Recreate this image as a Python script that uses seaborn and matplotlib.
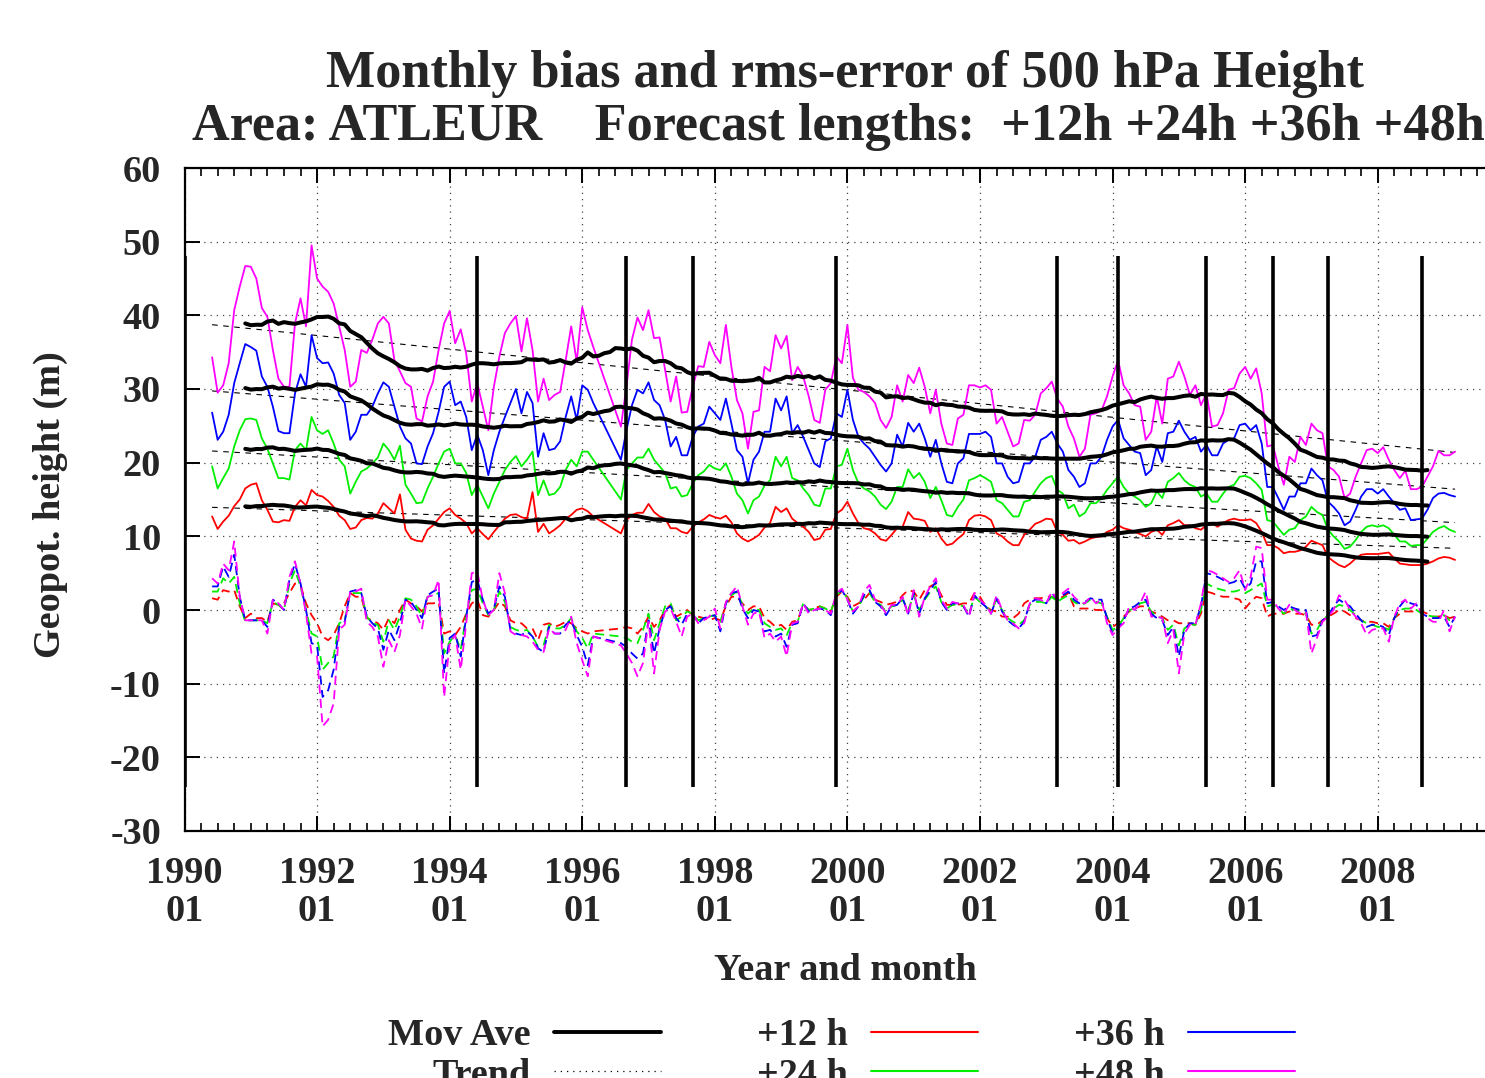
import numpy as np
import pandas as pd
import matplotlib
matplotlib.use("Agg")
import matplotlib.pyplot as plt
import seaborn as sns
from matplotlib.ticker import MultipleLocator, FixedLocator
from matplotlib.lines import Line2D

# ---------------- data (monthly, first month = June 1990) ----------------
start_year, start_month = 1990, 6

rms_12h = [12.7, 11.0, 12.0, 12.8, 14.1, 15.0, 16.5, 17.0, 17.2, 14.9, 13.6, 12.0, 11.9, 12.2, 12.1, 14.0, 14.9, 14.2, 16.3, 15.6, 15.4, 14.8, 14.0, 12.8, 12.2, 11.0, 11.2, 12.2, 12.5, 12.4, 13.1, 14.5, 13.8, 13.1, 15.7, 10.9,
           9.7, 9.4, 9.3, 10.9, 11.5, 12.4, 13.3, 13.8, 12.9, 12.4, 11.8, 10.4, 11.1, 10.3, 9.6, 10.6, 11.5, 12.4, 12.9, 13.0, 12.6, 12.4, 16.0, 10.6, 11.7, 10.4, 10.9, 11.5, 12.4, 12.9, 13.6, 13.8, 13.4, 12.7,
           None, None, None, None,
           10.4, 12.2, 12.9, 13.2, 13.2, 14.4, 13.3, 12.7, 12.4, 11.1, 11.1, 10.6, 10.4, 11.3, 11.9, 12.3, 12.9, 12.6, 12.4, 12.8, 11.9, 10.4, 9.7, 9.3, 9.7, 10.2, 11.2, 11.8, 14.0, 13.3, 13.8, 12.4, 11.8, 11.3, 10.6, 9.5, 9.7, 10.9, 11.0, 13.1, 13.6, 14.7,
           13.1, 11.8, 11.1, 10.9, 10.4, 9.6, 9.4, 10.2, 11.1, 11.3, 13.3, 12.4, 12.3, 12.1, 10.6, 11.1, 9.7, 8.8, 9.0, 9.7, 10.3, 12.2, 12.8, 12.9, 12.7, 12.2, 10.4, 10.0, 9.3, 8.8, 8.8, 10.2, 10.9, 11.7, 12.0, 12.4, 12.3, 10.6, 10.2, 9.4,
           9.5, 9.0, 9.3, 9.7, 9.9, 10.0, 10.6, 10.9, 11.5, 11.1, 10.9, 10.6, 10.3, 10.0, 10.6, 10.9, 10.2, 11.5, 11.8, 12.2, 11.5, 11.5, 11.1, 10.9, 11.5, 11.8, 11.3, 11.8, 12.2, 12.4, 12.2, 12.2, 12.3, 11.8, 10.6, 8.8,
           8.8, 8.4, 7.7, 7.9, 7.9, 8.1, 8.6, 9.4, 9.1, 8.8, 7.2, 6.6, 6.1, 5.8, 6.3, 7.0, 7.5, 7.6, 7.6, 7.6, 7.7, 7.8, 7.0, 6.3, 6.2, 6.1, 6.1, 6.1, 6.3, 6.6, 7.0, 7.2, 7.1, 6.8]

rms_24h = [19.5, 16.5, 17.9, 19.2, 22.2, 24.4, 25.9, 26.0, 25.8, 23.3, 21.9, 19.9, 17.9, 17.9, 17.7, 21.7, 22.6, 21.7, 26.2, 24.4, 23.9, 24.4, 22.6, 20.4, 19.5, 15.8, 17.4, 18.8, 19.2, 19.9, 20.7, 22.6, 21.7, 20.4, 22.3, 17.0,
           15.8, 14.5, 14.6, 16.5, 18.1, 19.9, 21.5, 21.9, 19.9, 19.9, 18.6, 15.6, 17.0, 15.4, 13.8, 15.8, 17.4, 19.0, 20.1, 20.9, 19.5, 20.4, 21.5, 15.6, 17.6, 15.6, 15.8, 16.7, 19.0, 20.4, 19.5, 21.5, 21.5, 20.4,
           None, None, None, None,
           15.0, 19.0, 19.9, 20.7, 20.7, 21.9, 20.4, 19.5, 18.6, 16.5, 16.7, 15.4, 15.6, 17.2, 18.3, 18.8, 19.7, 19.2, 19.0, 19.9, 18.1, 15.8, 14.9, 13.1, 14.9, 15.4, 16.9, 17.6, 20.8, 19.5, 20.8, 17.9, 17.6, 16.5, 15.6, 14.3, 14.1, 16.5, 16.5, 19.5, 19.7, 21.9,
           19.0, 17.2, 16.5, 16.1, 15.4, 14.3, 13.7, 14.7, 16.7, 16.7, 19.1, 17.9, 18.6, 17.4, 15.2, 16.7, 14.9, 12.9, 12.7, 14.0, 15.0, 17.6, 17.9, 18.3, 17.9, 17.4, 14.9, 14.5, 13.6, 12.7, 12.7, 14.7, 14.9, 16.1, 17.2, 17.9, 18.2, 16.3, 15.8, 13.8,
           14.3, 12.7, 13.2, 14.5, 14.5, 15.2, 16.3, 17.2, 18.1, 16.7, 15.8, 15.4, 14.9, 14.0, 14.5, 16.1, 15.2, 17.4, 17.9, 18.6, 17.6, 17.0, 16.7, 15.4, 15.8, 14.7, 14.7, 15.8, 16.7, 17.0, 18.1, 18.2, 17.9, 17.2, 16.3, 12.2,
           12.0, 11.1, 10.2, 10.9, 11.1, 12.2, 12.7, 14.0, 13.3, 12.9, 10.9, 10.0, 9.3, 8.3, 8.6, 9.5, 10.6, 11.3, 11.5, 11.3, 11.5, 11.1, 10.2, 9.3, 9.3, 8.7, 8.8, 8.8, 9.7, 10.6, 11.1, 11.4, 10.9, 10.6]

rms_36h = [26.8, 23.1, 24.2, 26.5, 30.8, 33.5, 36.1, 35.7, 35.2, 31.7, 30.3, 27.6, 24.3, 24.0, 24.0, 29.4, 32.0, 30.3, 37.3, 34.2, 33.5, 33.6, 32.1, 29.2, 28.1, 23.1, 24.2, 26.5, 26.5, 27.6, 29.4, 30.9, 30.3, 27.6, 24.9, 23.3,
           22.6, 19.9, 19.8, 22.2, 24.0, 26.9, 30.3, 31.0, 27.8, 28.3, 26.2, 21.7, 23.8, 21.7, 18.3, 21.7, 24.2, 26.2, 28.1, 30.0, 26.7, 29.6, 28.1, 20.8, 24.0, 21.7, 21.9, 22.9, 26.2, 29.0, 25.8, 30.5, 29.9, 28.1,
           None, None, None, None,
           20.4, 24.4, 27.8, 29.9, 29.4, 30.9, 28.5, 27.8, 25.8, 22.2, 23.5, 21.0, 21.0, 23.5, 24.9, 25.3, 27.6, 26.7, 25.8, 28.7, 25.3, 21.7, 20.8, 17.2, 20.4, 21.5, 24.2, 24.2, 28.7, 27.1, 29.0, 24.0, 25.1, 23.5, 21.7, 19.9, 19.4, 22.9, 23.3, 26.7, 26.2, 29.9,
           25.8, 23.5, 22.6, 21.9, 20.8, 19.7, 18.8, 19.9, 23.8, 22.2, 25.4, 24.2, 25.3, 23.3, 20.8, 23.1, 19.9, 17.4, 17.2, 19.9, 20.6, 23.9, 23.9, 23.9, 24.2, 23.5, 19.9, 19.9, 18.1, 17.2, 17.4, 19.9, 19.9, 20.8, 23.1, 23.5, 24.2, 22.6, 21.5, 19.0,
           18.1, 16.7, 17.2, 19.9, 19.9, 20.8, 23.1, 24.9, 25.8, 23.3, 22.4, 21.5, 21.3, 18.3, 19.0, 22.2, 20.1, 24.0, 24.2, 25.7, 24.2, 23.1, 23.5, 21.5, 22.4, 21.0, 21.0, 22.6, 23.1, 23.3, 25.1, 25.3, 24.4, 25.1, 22.6, 16.7,
           16.7, 15.2, 13.6, 15.4, 15.4, 17.2, 17.2, 19.2, 18.3, 17.6, 14.7, 14.0, 13.1, 11.5, 12.0, 13.6, 15.4, 16.4, 16.4, 15.8, 16.4, 15.4, 14.5, 13.6, 13.8, 12.2, 12.3, 12.4, 13.6, 15.2, 15.8, 15.9, 15.6, 15.4]

rms_48h = [34.3, 29.5, 30.5, 33.5, 40.7, 43.9, 46.7, 46.6, 45.0, 41.0, 39.8, 35.3, 31.4, 30.3, 30.3, 38.9, 42.3, 38.5, 49.5, 45.0, 43.9, 43.2, 41.6, 38.5, 35.3, 30.3, 31.0, 35.3, 34.9, 36.7, 38.9, 39.8, 38.9, 33.9, 32.4, 30.8,
           30.3, 26.0, 25.6, 29.0, 31.0, 35.3, 38.9, 40.6, 36.2, 38.1, 34.8, 28.3, 30.8, 27.6, 24.4, 30.3, 34.4, 37.6, 38.9, 39.9, 35.1, 39.6, 35.3, 28.3, 31.4, 28.5, 29.2, 29.6, 33.9, 38.5, 33.7, 41.1, 38.0, 35.7,
           None, None, None, None,
           24.9, 30.3, 36.7, 39.7, 38.0, 40.7, 36.9, 37.0, 32.6, 28.3, 31.7, 26.8, 26.9, 30.3, 33.1, 33.0, 36.4, 34.6, 33.5, 38.7, 33.0, 28.5, 26.7, 21.9, 26.9, 27.1, 33.0, 32.4, 37.3, 35.5, 37.2, 31.2, 33.0, 31.7, 29.0, 25.8, 25.4, 29.9, 30.8, 34.4, 33.5, 38.7,
           31.5, 29.9, 29.6, 29.0, 28.1, 25.8, 24.7, 26.2, 30.5, 28.3, 31.9, 30.8, 32.9, 30.3, 26.7, 29.9, 25.3, 22.6, 22.4, 26.0, 26.5, 30.5, 30.5, 30.2, 30.5, 29.9, 25.3, 26.2, 24.2, 22.2, 22.6, 25.8, 25.7, 26.5, 29.4, 30.1, 31.0, 28.7, 27.6, 24.9,
           23.3, 20.8, 21.9, 26.5, 26.7, 27.1, 29.0, 31.7, 33.9, 30.5, 29.4, 27.8, 27.6, 23.1, 24.2, 29.0, 25.3, 31.4, 31.7, 33.7, 31.7, 29.2, 30.5, 27.8, 29.4, 24.9, 25.1, 26.7, 29.9, 30.1, 32.1, 33.0, 31.4, 32.8, 29.4, 22.2,
           22.4, 19.5, 17.0, 20.8, 20.1, 23.5, 22.4, 25.3, 24.4, 24.0, 19.5, 19.0, 18.1, 15.2, 15.8, 18.1, 19.9, 21.7, 21.9, 21.3, 22.1, 20.4, 19.0, 17.9, 18.9, 16.4, 16.4, 16.7, 18.1, 19.5, 21.6, 21.0, 21.0, 21.5]

bias_12h = [1.6, 1.4, 2.7, 2.5, 2.7, 0.5, -1.1, -0.5, -1.1, -1.1, -1.6, 0.9, 0.7, 0.9, 2.3, 3.6, 3.4, 0.9, -0.7, -1.8, -3.6, -4.1, -3.4, -1.8, 0.5, 2.3, 1.8, 1.8, -1.1, -1.4, -1.8, -2.7, -1.1, -1.8, 0.0, 1.4,
            0.9, 0.5, -0.2, 0.9, 0.9, 1.1, -3.2, -2.9, -3.4, -2.3, -0.5, 0.9, 1.4, -0.7, -0.9, 0.0, 1.1, 0.5, -1.4, -1.8, -1.8, -2.5, -2.5, -4.1, -2.0, -1.8, -2.3, -2.0, -1.6, -1.8, -2.5, -2.9, -3.2, -2.9,
            None, None, None, None,
            -2.5, -2.3, -2.5, -3.2, -2.3, -0.9, -2.3, -1.4, 0.0, 0.7, -0.9, -0.5, 0.0, -0.7, -0.9, -1.1, -1.4, -1.1, -1.4, 0.5, 1.8, 1.8, 0.9, 0.0, 0.5, 0.5, -1.1, -1.6, -2.3, -2.0, -2.7, -1.6, -1.4, 0.7, 0.0, 0.2, 0.5, 0.2, -0.2, 1.8, 2.5, 1.8,
            0.5, 0.9, 1.4, 2.3, 1.4, 1.1, 0.7, 0.9, 1.1, 2.0, 2.7, 2.5, 1.4, 2.7, 3.2, 3.6, 2.0, 0.7, 0.7, 0.7, 0.9, 0.9, 2.3, 1.8, 0.5, 0.0, -0.2, -0.9, -0.9, -1.1, -0.5, 0.9, 1.4, 1.6, 1.6, 1.8, 1.8, 1.4, 1.8, 2.3,
            0.5, 0.2, 0.2, 0.2, 0.0, 0.0, -1.1, -2.3, -1.8, -0.9, -0.2, 0.2, 0.5, 0.5, -0.2, -0.5, -0.9, -1.4, -1.4, -1.8, -1.8, -1.8, -2.0, -0.5, 2.5, 2.3, 2.0, 1.8, 1.8, 1.6, 1.4, 0.2, 1.1, 1.8, 1.6, -0.9,
            -0.5, -0.5, -0.5, -0.2, -0.5, -0.5, -0.7, -2.0, -2.0, -1.4, -0.9, -0.5, 0.0, -0.2, -0.7, -1.1, -1.4, -1.6, -1.6, -1.8, -1.8, -2.3, -1.1, -0.5, -0.2, -0.2, -0.2, -0.2, -0.5, -0.9, -0.9, -0.7, -1.1, -0.9]

bias_24h = [2.5, 2.5, 4.3, 3.6, 4.5, 0.9, -1.6, -1.4, -1.4, -1.4, -1.8, 1.1, 0.7, 0.0, 3.6, 5.4, 3.2, 0.0, -3.2, -3.6, -8.1, -7.2, -6.3, -1.8, -1.4, 2.3, 2.3, 2.3, -0.9, -1.8, -2.0, -4.3, -1.4, -2.7, -0.9, 1.6,
            1.4, 0.5, -0.9, 1.8, 2.0, 2.3, -5.9, -4.3, -3.4, -5.4, -0.7, 2.7, 2.9, 0.9, -0.7, 0.0, 2.5, 1.1, -2.3, -2.7, -2.9, -2.7, -3.6, -5.0, -4.8, -2.0, -2.5, -2.5, -2.0, -1.1, -2.9, -3.8, -5.2, -3.2,
            None, None, None, None,
            -3.6, -3.8, -4.3, -4.5, -2.7, -0.5, -4.1, -1.8, 0.5, 0.9, -1.4, -0.9, -0.2, -0.5, -1.4, -1.1, -0.9, -0.7, -1.6, 0.9, 2.0, 2.5, 0.7, -0.5, 0.2, 0.0, -1.8, -2.3, -2.7, -2.5, -3.4, -1.8, -1.6, 0.9, 0.0, 0.2, 0.5, 0.2, -0.2, 2.0, 2.7, 1.6,
            -0.2, 0.5, 1.8, 2.3, 1.1, 0.7, -0.2, 0.5, 0.7, 1.4, 0.0, 2.0, 0.0, 1.4, 2.5, 3.2, 1.1, 0.2, 0.7, 0.7, 0.5, -0.5, 1.8, 1.1, 0.5, -0.2, 1.4, 0.0, -1.1, -1.6, -2.0, -1.4, 0.7, 1.1, 1.1, 0.9, 1.8, 1.1, 1.6, 2.0,
            1.1, 0.7, 0.9, 1.4, 1.1, 0.9, -0.9, -2.7, -2.3, -1.1, 0.0, 0.2, 0.9, 1.1, -0.2, -0.9, -1.1, -2.7, -2.0, -4.8, -2.5, -2.0, -2.0, 0.0, 3.6, 3.2, 2.9, 2.7, 2.5, 2.5, 2.7, 2.3, 2.7, 3.2, 3.6, 0.5,
            0.7, 0.2, -0.5, 0.2, 0.0, -0.2, -0.5, -3.2, -2.7, -1.4, -0.7, 0.2, 0.7, 0.5, 0.0, -0.7, -1.4, -1.8, -2.0, -2.3, -2.3, -2.7, -1.1, 0.0, 0.2, 0.2, 0.0, -0.5, -0.7, -0.9, -0.9, -0.7, -1.4, -1.1]

bias_36h = [3.2, 3.2, 5.9, 4.5, 7.5, 1.8, -1.4, -1.4, -1.4, -1.4, -2.3, 1.4, 0.9, 0.0, 4.1, 6.3, 3.6, 0.0, -4.5, -4.8, -11.8, -10.9, -8.1, -2.3, -1.6, 2.5, 2.7, 2.3, -0.9, -1.8, -2.5, -5.4, -2.7, -4.1, -1.8, 1.4,
            1.1, 0.0, -1.1, 2.0, 2.5, 2.9, -8.6, -3.8, -3.2, -6.3, -0.9, 3.8, 4.1, 1.4, -0.5, 0.2, 3.2, 1.8, -2.7, -3.2, -3.4, -2.9, -3.6, -5.2, -5.7, -2.3, -3.2, -3.2, -2.0, -1.4, -3.4, -5.0, -7.5, -3.6,
            None, None, None, None,
            -4.5, -5.0, -5.9, -6.6, -5.9, -1.4, -5.9, -2.5, 0.0, 0.5, -1.1, -2.0, -0.5, -0.5, -1.8, -1.1, -0.9, -0.7, -2.9, 0.9, 2.3, 2.5, 0.2, -1.1, 0.0, -0.2, -2.9, -2.7, -3.6, -3.2, -5.0, -2.0, -1.8, 0.9, -0.2, 0.0, 0.2, 0.0, -0.7, 2.0, 2.7, 1.4,
            -0.5, 0.5, 2.0, 2.7, 1.1, 0.5, -0.7, 0.5, 0.7, 1.6, -0.5, 2.3, -0.5, 1.6, 2.7, 3.8, 1.1, 0.0, 0.9, 0.9, 0.5, -0.9, 2.0, 1.1, 0.5, -0.5, 1.6, -0.2, -1.4, -2.0, -2.5, -1.6, 0.9, 1.4, 1.4, 0.9, 2.3, 1.4, 2.0, 2.5,
            1.4, 0.9, 1.1, 1.6, 1.4, 1.4, -1.1, -3.2, -2.5, -1.4, 0.2, 0.5, 1.1, 1.4, -0.5, -1.1, -1.4, -3.4, -2.3, -6.3, -2.7, -1.8, -1.8, 0.5, 5.0, 4.8, 4.5, 4.1, 3.6, 3.8, 4.3, 2.9, 3.6, 6.6, 6.6, 0.9,
            1.1, 0.5, 0.0, 0.5, 0.2, 0.0, 0.0, -3.6, -3.4, -1.4, -0.9, 0.5, 1.4, 0.9, 0.5, -0.5, -1.4, -2.3, -2.0, -2.0, -2.3, -3.4, -1.1, 0.5, 1.4, 0.9, 0.7, -0.5, -0.9, -1.1, -1.1, -0.9, -2.3, -0.9]

bias_48h = [4.3, 3.6, 6.3, 5.4, 9.3, 1.8, -1.4, -1.4, -1.4, -1.4, -3.2, 1.4, 0.9, 0.0, 4.5, 6.6, 3.6, -0.5, -5.9, -6.3, -15.8, -14.9, -12.7, -2.7, -2.0, 2.5, 2.5, 2.9, -1.6, -2.3, -3.6, -7.7, -4.1, -5.7, -3.4, 1.4,
            0.5, -0.5, -2.5, 1.8, 2.0, 4.1, -11.8, -4.5, -3.4, -8.1, -1.8, 5.0, 5.2, 1.4, -0.7, 0.0, 5.0, 2.3, -2.9, -3.4, -3.4, -3.6, -4.3, -5.4, -5.7, -2.5, -3.2, -3.2, -2.7, -0.9, -4.5, -6.8, -9.0, -3.6,
            None, None, None, None,
            -4.8, -5.9, -7.2, -9.0, -7.2, -1.6, -8.6, -2.7, -0.2, 0.2, -1.6, -3.6, -0.9, -0.5, -1.8, -1.4, -0.9, 0.2, -2.5, 1.1, 2.3, 3.2, 0.5, -2.0, -0.5, -0.2, -3.8, -3.2, -4.3, -3.6, -6.3, -1.8, -1.6, 0.9, -0.5, 0.0, 0.2, 0.0, -0.5, 2.3, 2.9, 1.4,
            -0.2, 0.5, 2.5, 3.4, 1.4, 0.7, -0.5, 0.7, 0.7, 1.8, -0.7, 2.7, -0.9, 1.8, 3.2, 4.3, 1.4, 0.2, 1.1, 0.9, 0.7, -0.9, 2.3, 1.4, 0.7, -0.5, 2.0, 0.0, -1.4, -1.8, -2.5, -1.8, 0.9, 1.6, 1.4, 0.9, 2.5, 1.4, 2.3, 2.9,
            1.8, 1.1, 0.9, 1.8, 0.9, 1.4, -1.8, -3.4, -2.5, -1.8, 0.5, 0.0, 0.9, 2.5, -0.9, -0.9, -1.1, -4.5, -2.7, -8.6, -3.2, -2.0, -2.0, 0.9, 5.4, 5.2, 4.8, 4.3, 3.8, 4.3, 5.4, 2.7, 4.5, 8.6, 8.4, 1.4,
            1.4, 0.2, -0.5, 0.7, 0.0, -0.5, -0.2, -5.9, -3.8, -1.6, -0.9, 0.0, 2.0, 1.4, 0.0, -0.9, -1.8, -3.4, -2.7, -2.5, -2.5, -4.3, -0.9, 0.9, 1.4, 0.2, 0.9, -0.5, -1.1, -1.6, -1.6, 0.0, -2.9, -0.9]

leads = ["+12 h", "+24 h", "+36 h", "+48 h"]
lead_colors = ["#ff0000", "#00ee00", "#0000ff", "#ff00ff"]

# model-change markers (year, month)
event_years = [1990, 1994, 1996, 1997, 1999, 2003, 2004, 2005, 2006, 2007, 2008]
event_months = [1, 6, 9, 9, 11, 3, 2, 6, 6, 4, 9]
event_ymin, event_ymax = -24, 48

x_tick_years = list(range(1990, 2009, 2))
x_tick_labels = [f"{y}\n01" for y in x_tick_years]
y_ticks = list(range(-30, 61, 10))

title1 = "Monthly bias and rms-error of 500 hPa Height"
title2 = "Area: ATLEUR    Forecast lengths:  +12h +24h +36h +48h"

# ---------------- build frames ----------------
n = len(rms_12h)
for s in (rms_24h, rms_36h, rms_48h, bias_12h, bias_24h, bias_36h, bias_48h):
    assert len(s) == n, len(s)
years = start_year + (start_month - 1 + np.arange(n)) / 12.0

rms = pd.DataFrame({"year": years, "+12 h": rms_12h, "+24 h": rms_24h,
                    "+36 h": rms_36h, "+48 h": rms_48h}).astype(float)
bias = pd.DataFrame({"year": years, "+12 h": bias_12h, "+24 h": bias_24h,
                     "+36 h": bias_36h, "+48 h": bias_48h}).astype(float)

rms_long = rms.melt(id_vars="year", var_name="lead", value_name="value").dropna()
bias_long = bias.melt(id_vars="year", var_name="lead", value_name="value").dropna()

# 12-month centred moving average (only where the full window lies in the record)
full = pd.Series(np.ones(n)).rolling(12, center=True, min_periods=12).sum() == 12
ma_frames = []
trend_frames = []
for lead in leads:
    s = rms[lead]
    ma = s.rolling(12, center=True, min_periods=8).mean()
    ma[~full.values] = np.nan
    ma_frames.append(pd.DataFrame({"year": years, "value": ma, "lead": lead}).dropna())
    ok = s.notna()
    coef = np.polyfit(years[ok], s[ok], 1)
    xs = np.array([years[0], years[-1]])
    trend_frames.append(pd.DataFrame({"year": xs, "value": np.polyval(coef, xs), "lead": lead}))
ma_long = pd.concat(ma_frames, ignore_index=True)
trend_long = pd.concat(trend_frames, ignore_index=True)

# ---------------- plot ----------------
sns.set_theme(style="ticks")
plt.rcParams["font.family"] = ["Liberation Serif", "DejaVu Serif"]
plt.rcParams["font.weight"] = "bold"
plt.rcParams["axes.labelweight"] = "bold"

W, H = 1485, 1078
fig = plt.figure(figsize=(W / 100, H / 100), dpi=100)
ax = fig.add_axes([184.5 / W, (H - 831) / H, (1505 - 184.5) / W, (831 - 168) / H])

palette = dict(zip(leads, lead_colors))

sns.lineplot(data=trend_long, x="year", y="value", units="lead", estimator=None,
             color="black", linewidth=0.8, linestyle=(0, (5, 5)), ax=ax, legend=False)
sns.lineplot(data=bias_long, x="year", y="value", hue="lead", palette=palette,
             estimator=None, sort=False, linewidth=1.3, linestyle=(0, (5, 3)),
             ax=ax, legend=False)
sns.lineplot(data=rms_long, x="year", y="value", hue="lead", palette=palette,
             estimator=None, sort=False, linewidth=1.3, ax=ax, legend=False)
sns.lineplot(data=ma_long, x="year", y="value", units="lead", estimator=None,
             color="black", linewidth=2.9, ax=ax, legend=False)

event_x = [y + (m - 1) / 12.0 for y, m in zip(event_years, event_months)]
ax.vlines(event_x, event_ymin, event_ymax, colors="black", linewidth=2.6, zorder=5)

ax.set_xlim(1990, 2009.92)
ax.set_ylim(-30, 60)
ax.xaxis.set_major_locator(FixedLocator(x_tick_years))
ax.set_xticklabels(x_tick_labels, linespacing=1.12)
ax.xaxis.set_minor_locator(MultipleLocator(0.25))
ax.yaxis.set_major_locator(FixedLocator(y_ticks))
ax.set_yticklabels([str(v) for v in y_ticks])
ax.tick_params(axis="both", which="major", direction="in", length=11, width=1.4,
               labelsize=27.5, top=True, right=True, color="black")
ax.tick_params(axis="x", which="major", pad=18)
ax.tick_params(axis="y", which="major", pad=17)
ax.tick_params(axis="x", which="minor", direction="in", length=6, width=1.2,
               top=True, bottom=True, color="black")
ax.grid(True, which="major", color="#444444", linestyle=(0, (1, 4)), linewidth=0.9)
for sp in ax.spines.values():
    sp.set_linewidth(1.6)
    sp.set_color("black")
ax.set_xlabel("")
ax.set_ylabel("")

fig.text(845 / W, 1 - 74 / H, title1, ha="center", va="center", fontsize=37.6, fontweight="bold")
fig.text(838 / W, 1 - 127 / H, title2, ha="center", va="center", fontsize=37.6, fontweight="bold")
fig.text(845 / W, 1 - 970 / H, "Year and month", ha="center", va="center", fontsize=27.5, fontweight="bold")
fig.text(50 / W, 1 - 505 / H, "Geopot. height (m)", ha="center", va="center", rotation=90,
         fontsize=27.5, fontweight="bold")

handles = [Line2D([], [], color="black", linewidth=2.8),
           Line2D([], [], color="black", linewidth=0.9, linestyle=(0, (1, 4))),
           Line2D([], [], color=lead_colors[0], linewidth=1.5),
           Line2D([], [], color=lead_colors[1], linewidth=1.5),
           Line2D([], [], color=lead_colors[2], linewidth=1.5),
           Line2D([], [], color=lead_colors[3], linewidth=1.5)]
labels = ["Mov Ave", "Trend"] + leads
fig.legend(handles, labels, ncol=3, markerfirst=False, frameon=False,
           loc="upper left", bbox_to_anchor=(388 / W, 1 - 1018 / H),
           prop={"family": "Liberation Serif", "weight": "bold", "size": 27.5},
           handlelength=2.8, handletextpad=0.62, columnspacing=2.5,
           labelspacing=0.12, borderpad=0, borderaxespad=0)

fig.savefig("out.png", dpi=100)
